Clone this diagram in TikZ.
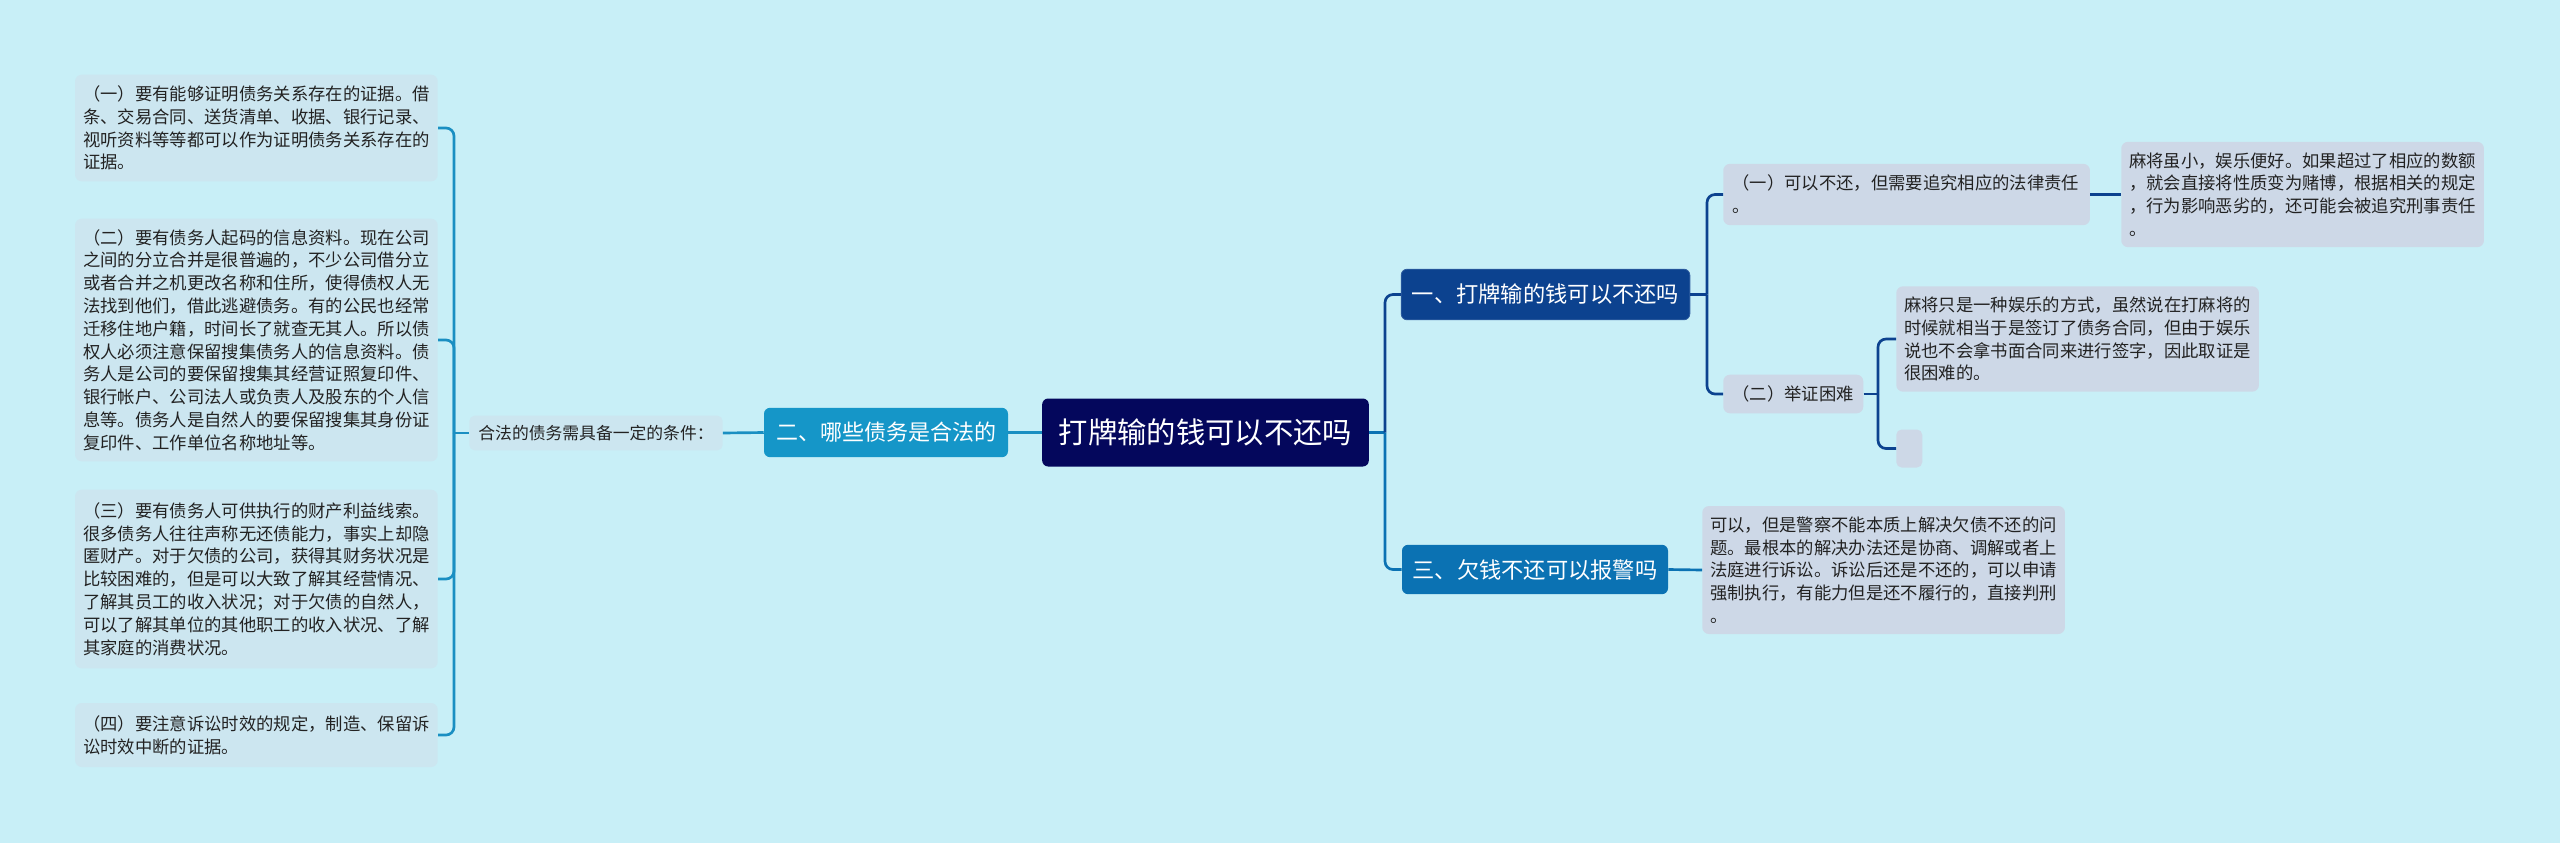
\documentclass[tikz,border=0pt]{standalone}
\usepackage{fontspec}
\setmainfont{Noto Sans CJK SC}
\definecolor{bgc}{HTML}{C8EFF7}
\definecolor{rootc}{HTML}{04075C}
\definecolor{onec}{HTML}{0C428F}
\definecolor{threec}{HTML}{0B72B3}
\definecolor{twoc}{HTML}{1596C8}
\definecolor{leafl}{HTML}{CCE6F0}
\definecolor{leafr}{HTML}{CDD8E7}
\definecolor{txt}{HTML}{222222}
\definecolor{lcol}{HTML}{1A8FC2}
\tikzset{
  mainbox/.style={rounded corners=4.5pt, text=white, inner sep=0pt, align=center},
  leafbox/.style={rounded corners=5pt, text=txt, inner xsep=6pt, inner ysep=0pt, align=left,
    font=\fontsize{13pt}{17.1pt}\selectfont},
  lline/.style={draw=lcol, line width=2pt, rounded corners=6pt},
  oneline/.style={draw=onec, line width=2pt, rounded corners=6pt},
  threeline/.style={draw=threec, line width=2pt, rounded corners=6pt}
}
\begin{document}
\begin{tikzpicture}[x=0.75pt,y=-0.75pt]
\fill[bgc] (0,0) rectangle (2560,843);
\useasboundingbox (0,0) rectangle (2560,843);

% root and main branches
\node[mainbox, fill=rootc, minimum width=245pt, minimum height=51pt,
  font=\fontsize{22pt}{26pt}\selectfont] (root) at (1205.5,432.5) {打牌输的钱可以不还吗};
\node[mainbox, fill=twoc, minimum width=183pt, minimum height=37pt,
  font=\fontsize{16.5pt}{20pt}\selectfont] (two) at (886,432.5) {二、哪些债务是合法的};
\node[mainbox, fill=onec, draw=onec!85!white, line width=0.6pt, minimum width=216.5pt, minimum height=38pt,
  font=\fontsize{16.7pt}{20pt}\selectfont] (one) at (1545.5,294.5) {一、打牌输的钱可以不还吗};
\node[mainbox, fill=threec, minimum width=199.5pt, minimum height=37pt,
  font=\fontsize{16.7pt}{20pt}\selectfont] (three) at (1535,569.5) {三、欠钱不还可以报警吗};

% left label
\node[rounded corners=4pt, fill=leafl, text=txt, minimum width=190pt, minimum height=26pt, inner sep=0pt,
  font=\fontsize{12.6pt}{15pt}\selectfont] (lab) at (596,433) {合法的债务需具备一定的条件：};

% left leaves
\node[leafbox, fill=leafl, anchor=east, minimum width=272pt, text width=260pt, minimum height=80pt] (b1) at (438,128) {（一）要有能够证明债务关系存在的证据。借\\条、交易合同、送货清单、收据、银行记录、\\视听资料等等都可以作为证明债务关系存在的\\证据。};
\node[leafbox, fill=leafl, anchor=east, minimum width=272pt, text width=260pt, minimum height=182pt] (b2) at (438,340) {（二）要有债务人起码的信息资料。现在公司\\之间的分立合并是很普遍的，不少公司借分立\\或者合并之机更改名称和住所，使得债权人无\\法找到他们，借此逃避债务。有的公民也经常\\迁移住地户籍，时间长了就查无其人。所以债\\权人必须注意保留搜集债务人的信息资料。债\\务人是公司的要保留搜集其经营证照复印件、\\银行帐户、公司法人或负责人及股东的个人信\\息等。债务人是自然人的要保留搜集其身份证\\复印件、工作单位名称地址等。};
\node[leafbox, fill=leafl, anchor=east, minimum width=272pt, text width=260pt, minimum height=134pt] (b3) at (438,579) {（三）要有债务人可供执行的财产利益线索。\\很多债务人往往声称无还债能力，事实上却隐\\匿财产。对于欠债的公司，获得其财务状况是\\比较困难的，但是可以大致了解其经营情况、\\了解其员工的收入状况；对于欠债的自然人，\\可以了解其单位的其他职工的收入状况、了解\\其家庭的消费状况。};
\node[leafbox, fill=leafl, anchor=east, minimum width=272pt, text width=260pt, minimum height=48pt] (b4) at (438,735) {（四）要注意诉讼时效的规定，制造、保留诉\\讼时效中断的证据。};

% right leaves
\node[leafbox, fill=leafr, anchor=west, minimum width=274pt, text width=261pt, minimum height=46pt, inner xsep=7pt] (a1) at (1723,194.5) {（一）可以不还，但需要追究相应的法律责任\\。};
\node[leafbox, fill=leafr, anchor=west, minimum width=272pt, text width=260pt, minimum height=79pt] (r1) at (2121,194.5) {麻将虽小，娱乐便好。如果超过了相应的数额\\，就会直接将性质变为赌博，根据相关的规定\\，行为影响恶劣的，还可能会被追究刑事责任\\。};
\node[leafbox, fill=leafr, anchor=west, minimum width=104pt, minimum height=29pt, inner xsep=7pt] (a2) at (1723,394) {（二）举证困难};
\node[leafbox, fill=leafr, anchor=west, minimum width=272pt, text width=260pt, minimum height=79pt] (r2) at (1896,339) {麻将只是一种娱乐的方式，虽然说在打麻将的\\时候就相当于是签订了债务合同，但由于娱乐\\说也不会拿书面合同来进行签字，因此取证是\\很困难的。};
\node[rounded corners=4pt, fill=leafr, anchor=west, minimum width=19.5pt, minimum height=28.5pt, inner sep=0pt] (emp) at (1896,448.5) {};
\node[leafbox, fill=leafr, anchor=west, minimum width=272pt, text width=260pt, minimum height=96pt] (r3) at (1702,570) {可以，但是警察不能本质上解决欠债不还的问\\题。最根本的解决办法还是协商、调解或者上\\法庭进行诉讼。诉讼后还是不还的，可以申请\\强制执行，有能力但是还不履行的，直接判刑\\。};

% junction coordinates
\coordinate (lj) at (454,433);
\coordinate (rj) at (1385,432.5);
\coordinate (s1) at (1707,294.5);
\coordinate (s2) at (1878,394);

% connectors left
\draw[lline] (root.west) -- (two.east);
\draw[lline] (two.west) -- (lab.east);
\draw[lline] (lab.west) -- (lj);
\draw[lline] (lj) |- (b1.east);
\draw[lline] (lj) |- (b2.east);
\draw[lline] (lj) |- (b3.east);
\draw[lline] (lj) |- (b4.east);

% connectors right
\draw[threeline] (root.east) -- (rj);
\draw[oneline] (rj) |- (one.west);
\draw[threeline] (rj) |- (three.west);
\draw[oneline] (one.east) -- (s1);
\draw[oneline] (s1) |- (a1.west);
\draw[oneline] (s1) |- (a2.west);
\draw[oneline] (a1.east) -- (r1.west);
\draw[oneline] (a2.east) -- (s2);
\draw[oneline] (s2) |- (r2.west);
\draw[oneline] (s2) |- (emp.west);
\draw[threeline] (three.east) -- (r3.west);
\end{tikzpicture}
\end{document}
